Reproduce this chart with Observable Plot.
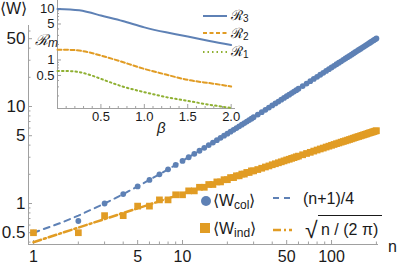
<!DOCTYPE html>
<html><head><meta charset="utf-8">
<script src="https://cdn.jsdelivr.net/npm/d3@7"></script>
<script src="https://cdn.jsdelivr.net/npm/@observablehq/plot@0.6"></script>
<style>
body{margin:0;background:#fff;}
#wrap{position:relative;width:399px;height:264px;overflow:hidden;font-family:"Liberation Sans",Arial,sans-serif;background:#fff;}
#wrap svg{position:absolute;left:0;top:0;}
</style></head><body><div id="wrap"></div>
<script>
// ---- main chart data: n and measured means ----
const nValues = [1,2,3,4,5,6,7,8,9,10,11,12,13,14,15,16,17,18,19,20,21,22,23,24,25,26,27,28,29,30,
  32,34,36,38,40,42,44,46,48,50,52,54,56,58,60,
  64,68,72,76,80,84,88,92,96,100,104,108,112,116,120,124,128,132,136,140,144,148,152,156,160,164,168,172,176,180,184,188,192,196,200];
const colMeans = [0.5,0.66,1.0,1.25,1.5,1.75,2.0,2.25,2.5,2.75,3.0,3.25,3.5,3.75,4.0,4.25,4.5,4.75,5.0,5.25,5.5,5.75,6.0,6.25,6.5,6.75,7.0,7.25,7.5,7.75,
  8.25,8.75,9.25,9.75,10.25,10.75,11.25,11.75,12.25,12.75,13.25,13.75,14.25,14.75,15.25,
  16.25,17.25,18.25,19.25,20.25,21.25,22.25,23.25,24.25,25.25,26.25,27.25,28.25,29.25,30.25,31.25,32.25,33.25,34.25,35.25,36.25,37.25,38.25,39.25,40.25,41.25,42.25,43.25,44.25,45.25,46.25,47.25,48.25,49.25,50.25];
const indMeans = [0.5,0.5,0.75,0.75,0.94,0.94,1.09,1.09,1.23,1.23,1.35,1.35,1.47,1.47,1.57,1.57,1.67,1.67,1.76,1.76,1.85,1.85,1.93,1.93,2.01,2.01,2.09,2.09,2.17,2.17,
  2.24,2.31,2.38,2.44,2.51,2.57,2.63,2.69,2.75,2.81,2.86,2.92,2.97,3.03,3.08,
  3.18,3.28,3.37,3.47,3.56,3.65,3.73,3.82,3.90,3.98,4.06,4.14,4.21,4.29,4.36,4.43,4.50,4.57,4.64,4.71,4.78,4.85,4.91,4.97,5.04,5.10,5.16,5.22,5.29,5.35,5.40,5.46,5.52,5.58,5.63];
// theory curves (n+1)/4 and sqrt(n/(2 pi)), read at these n
const lineN = [1,1.5,2,3,4,5,7,10,15,20,30,50,70,100,150,200];
const colTheory = [0.5,0.625,0.75,1,1.25,1.5,2,2.75,4,5.25,7.75,12.75,17.75,25.25,37.75,50.25];
const indTheory = [0.399,0.489,0.564,0.691,0.798,0.892,1.056,1.262,1.545,1.784,2.185,2.821,3.338,3.989,4.886,5.642];
const xMajor = [1,5,10,50,100];
const xMinor = [2,3,4,6,7,8,9,20,30,40,60,70,80,90,200];
const yMajor = [0.5,1,5,10,50];
const yMinor = [0.4,0.6,0.7,0.8,0.9,2,3,4,6,7,8,9,20,30,40,60];
const xTickLabels = ["1","5","10","50","100"];
const yTickLabels = ["0.5","1","5","10","50"];

// ---- inset data ----
const betaValues = [0,0.25,0.5,0.75,1.0,1.25,1.5,1.75,2.0];
const r3 = [9.8,9.2,7.3,5.7,4.3,3.45,2.86,2.34,1.95];
const r2 = [1.58,1.52,1.22,0.91,0.67,0.52,0.41,0.355,0.305];
const r1 = [0.61,0.58,0.43,0.305,0.237,0.19,0.16,0.135,0.117];
const bMajor = [0.5,1.0,1.5,2.0];
const bMinor = [0.1,0.2,0.3,0.4,0.6,0.7,0.8,0.9,1.1,1.2,1.3,1.4,1.6,1.7,1.8,1.9];
const rMajor = [0.5,1,5,10];
const rMinor = [0.2,0.3,0.4,0.6,0.7,0.8,0.9,2,3,4,6,7,8,9];
const bTickLabels = ["0.5","1.0","1.5","2.0"];
const rTickLabels = ["0.5","1","5","10"];

const blue="#5e81b5", orange="#e19c24", green="#8fb032", axisColor="#a0a0a0", ink="#1a1a1a";
const FONT = '"Liberation Sans", Arial, sans-serif';
const wrap = document.getElementById("wrap");

// main plot
const W=399,H=264,mL=28,mR=21,mT=25,mB=20;
const frameH=H-mT-mB, frameW=W-mL-mR;
const xDom=[0.926,206.6], yDom=[0.378,68.4];
const pts = nValues.map((n,i)=>({n, col: colMeans[i], ind: indMeans[i]}));
const lines = lineN.map((n,i)=>({n, col: colTheory[i], ind: indTheory[i]}));
const main = Plot.plot({
  width:W, height:H, marginLeft:mL, marginRight:mR, marginTop:mT, marginBottom:mB,
  style:{background:"transparent", fontFamily:FONT, fontSize:"17px", color:ink, overflow:"visible"},
  x:{type:"log", domain:xDom, axis:null},
  y:{type:"log", domain:yDom, axis:null},
  marks:[
    Plot.ruleY([yDom[0]], {stroke:axisColor}),
    Plot.ruleX([xDom[0]], {stroke:axisColor}),
    Plot.ruleX(xMajor, {x:d=>d, stroke:axisColor, insetTop:frameH-4}),
    Plot.ruleX(xMinor, {x:d=>d, stroke:axisColor, insetTop:frameH-2.5}),
    Plot.ruleY(yMajor, {y:d=>d, stroke:axisColor, insetRight:frameW-4}),
    Plot.ruleY(yMinor, {y:d=>d, stroke:axisColor, insetRight:frameW-2.5}),
    Plot.text(xMajor, {x:d=>d, frameAnchor:"bottom", lineAnchor:"top", dy:6, text:(d,i)=>xTickLabels[i], fontSize:16, fill:ink}),
    Plot.text(yMajor, {y:d=>d, frameAnchor:"left", textAnchor:"end", dx:-3, text:(d,i)=>yTickLabels[i], fontSize:17, fill:ink}),
    Plot.line(lines, {x:"n", y:"col", stroke:blue, strokeWidth:2, strokeDasharray:"6,5"}),
    Plot.line(lines, {x:"n", y:"ind", stroke:orange, strokeWidth:2.5, strokeDasharray:"8,3,2,3"}),
    Plot.dot(pts, {x:"n", y:"col", r:2.9, fill:blue}),
    Plot.dot(pts, {x:"n", y:"ind", r:3.8, symbol:"square", fill:orange})
  ]
});
wrap.appendChild(main);

// inset plot
const iW=239, iH=136, imL=57, imR=4, imT=0, imB=28;
const iFrameH=iH-imT-imB, iFrameW=iW-imL-imR;
const bDom=[0,2.05], rDom=[0.114,14.3];
const inset = Plot.plot({
  width:iW, height:iH, marginLeft:imL, marginRight:imR, marginTop:imT, marginBottom:imB,
  style:{background:"transparent", fontFamily:FONT, fontSize:"13px", color:ink, overflow:"visible"},
  x:{domain:bDom, axis:null},
  y:{type:"log", domain:rDom, axis:null},
  marks:[
    Plot.ruleY([rDom[0]], {stroke:axisColor}),
    Plot.ruleX([bDom[0]], {stroke:axisColor}),
    Plot.ruleX(bMajor, {x:d=>d, stroke:axisColor, insetTop:iFrameH-4}),
    Plot.ruleX(bMinor, {x:d=>d, stroke:axisColor, insetTop:iFrameH-2}),
    Plot.ruleY(rMajor, {y:d=>d, stroke:axisColor, insetRight:iFrameW-4}),
    Plot.ruleY(rMinor, {y:d=>d, stroke:axisColor, insetRight:iFrameW-2}),
    Plot.text(bMajor, {x:d=>d, frameAnchor:"bottom", lineAnchor:"top", dy:3, text:(d,i)=>bTickLabels[i], fontSize:13, fill:ink}),
    Plot.text(rMajor, {y:d=>d, frameAnchor:"left", textAnchor:"end", dx:-3, text:(d,i)=>rTickLabels[i], fontSize:13, fill:ink}),
    Plot.line(betaValues.map((b,i)=>({b, v:r1[i]})), {x:"b", y:"v", stroke:green, strokeWidth:2, strokeDasharray:"1.5,3", curve:"natural"}),
    Plot.line(betaValues.map((b,i)=>({b, v:r2[i]})), {x:"b", y:"v", stroke:orange, strokeWidth:2, strokeDasharray:"4,2.5", curve:"natural"}),
    Plot.line(betaValues.map((b,i)=>({b, v:r3[i]})), {x:"b", y:"v", stroke:blue, strokeWidth:2, curve:"natural"})
  ]
});
wrap.appendChild(inset);

// overlay: axis labels and legends
const NS="http://www.w3.org/2000/svg";
const ov = document.createElementNS(NS,"svg");
ov.setAttribute("width",W); ov.setAttribute("height",H);
ov.setAttribute("font-family", FONT);
ov.innerHTML = `
 <text x="0" y="14" font-size="16" fill="${ink}">⟨W⟩</text>
 <text x="35" y="45" font-size="15" font-style="italic" fill="${ink}">ℛ<tspan font-size="12" dy="2">m</tspan></text>
 <text x="157" y="133" font-size="15" font-style="italic" fill="${ink}">β</text>
 <text x="388" y="252" font-size="16" fill="${ink}">n</text>
 <line x1="203" x2="227" y1="16" y2="16" stroke="${blue}" stroke-width="2"/>
 <line x1="203" x2="227" y1="33" y2="33" stroke="${orange}" stroke-width="2" stroke-dasharray="4,2.5"/>
 <line x1="203" x2="227" y1="52" y2="52" stroke="${green}" stroke-width="2" stroke-dasharray="1.5,3"/>
 <text x="231" y="20" font-size="14" fill="${ink}">ℛ<tspan font-size="10" dy="2">3</tspan></text>
 <text x="231" y="38" font-size="14" fill="${ink}">ℛ<tspan font-size="10" dy="2">2</tspan></text>
 <text x="231" y="56" font-size="14" fill="${ink}">ℛ<tspan font-size="10" dy="2">1</tspan></text>
 <circle cx="206" cy="201" r="5" fill="${blue}"/>
 <rect x="200" y="223" width="10" height="10" fill="${orange}"/>
 <text x="213" y="206" font-size="16" fill="${ink}">⟨W<tspan font-size="12" dy="3">col</tspan><tspan dy="-3">⟩</tspan></text>
 <text x="213" y="234" font-size="16" fill="${ink}">⟨W<tspan font-size="12" dy="3">ind</tspan><tspan dy="-3">⟩</tspan></text>
 <line x1="273" x2="291" y1="198" y2="198" stroke="${blue}" stroke-width="2" stroke-dasharray="6,5"/>
 <line x1="273" x2="292" y1="230" y2="230" stroke="${orange}" stroke-width="2.5" stroke-dasharray="8,3,2,3"/>
 <text x="303" y="204" font-size="16" fill="${ink}">(n+1)/4</text>
 <text x="305" y="238" font-size="23" fill="${ink}">√</text>
 <line x1="318" x2="382" y1="215.5" y2="215.5" stroke="${ink}" stroke-width="1"/>
 <text x="321" y="235" font-size="16" fill="${ink}" xml:space="preserve">n / (2 π)</text>
`;
wrap.appendChild(ov);
</script>
</body></html>
